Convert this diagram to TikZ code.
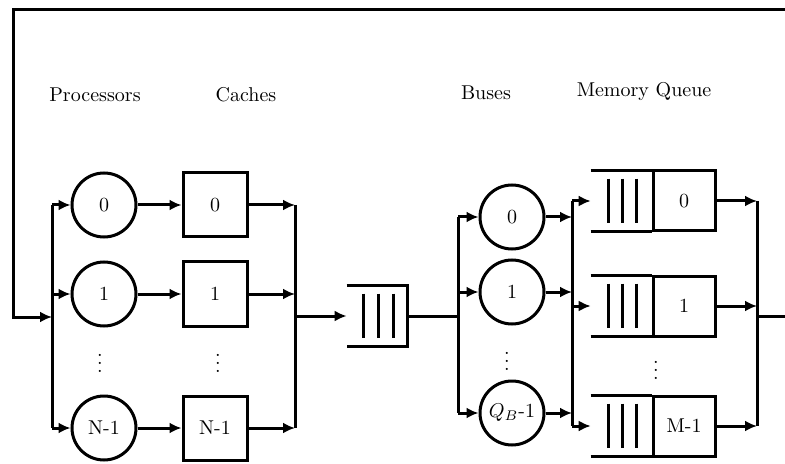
\documentclass[tikz,border=0pt]{standalone}
\usepackage{amsmath, amssymb}
\usepackage{tikz}
\usetikzlibrary{arrows.meta, positioning}

\begin{document}
\begin{tikzpicture}[x=0.5pt, y=-0.5pt,
            proc/.style={circle, draw, line width=1.5pt, minimum size=32pt,
                         inner sep=0pt, font=\normalsize},
            cache/.style={rectangle, draw, line width=1.5pt, minimum width=32pt,
                          minimum height=32pt, inner sep=0pt, font=\normalsize},
            membox/.style={rectangle, draw, line width=1.5pt, minimum width=31pt,
                           minimum height=30pt, inner sep=0pt, font=\normalsize},
            slot/.style={rectangle, minimum width=30pt, minimum height=30pt, inner sep=0pt},
            heading/.style={font=\normalsize},
            wire/.style={line width=1.5pt},
            edge/.style={-{Latex[length=6pt, width=5.5pt]}, line width=1.5pt}
        ]
            \useasboundingbox (0,0) rectangle (785,464);

            % column headings
            \node[heading] (hproc) at (95,95) {Processors};
            \node[heading] (hcache) at (246,95) {Caches};
            \node[heading] (hbus) at (486,93) {Buses};
            \node[heading] (hmem) at (644,92) {Memory Queue};

            % processors and caches
            \node[proc] (P0) at (104,205) {0};
            \node[proc] (P1) at (104,294) {1};
            \node[proc] (PN) at (104,428) {N-1};
            \node[cache] (C0) at (215,205) {0};
            \node[cache] (C1) at (215,294) {1};
            \node[cache] (CN) at (215,428) {N-1};
            \node (pdots) at (100,357) {$\vdots$};
            \node (cdots) at (218,357) {$\vdots$};

            % central queue
            \node[slot] (Q) at (377,316) {};
            \draw[wire] (Q.north west) -- (Q.north east) -- (Q.south east) -- (Q.south west);
            \foreach \dx in {-14,1,16}
                \draw[wire] ([xshift=\dx*0.5pt, yshift=-4pt]Q.north) -- ([xshift=\dx*0.5pt, yshift=4pt]Q.south);

            % buses
            \node[proc] (B0) at (512,217) {0};
            \node[proc] (B1) at (512,292) {1};
            \node[proc] (BN) at (512,413) {$Q_B$-1};
            \node (bdots) at (507,355) {$\vdots$};

            % memory queues
            \node[membox] (M0) at (684,201) {0};
            \node[membox] (M1) at (684,306) {1};
            \node[membox] (MN) at (684,426) {M-1};
            \node[slot, left=0pt of M0] (W0) {};
            \node[slot, left=0pt of M1] (W1) {};
            \node[slot, left=0pt of MN] (WN) {};
            \foreach \w in {W0, W1, WN} {
                \draw[wire] (\w.north west) -- (\w.north east);
                \draw[wire] (\w.south west) -- (\w.south east);
                \foreach \dx in {-13,1,15}
                    \draw[wire] ([xshift=\dx*0.5pt, yshift=-4pt]\w.north) -- ([xshift=\dx*0.5pt, yshift=4pt]\w.south);
            }
            \node (mdots) at (656,364) {$\vdots$};

            % bus coordinates
            \coordinate (pin) at (52,317);
            \coordinate (cout) at (295,316);
            \coordinate (bin) at (458,316);
            \coordinate (bout) at (572,316);
            \coordinate (mout) at (757,316);
            \coordinate (exit) at (785,316);
            \coordinate (entry) at (785,10);
            \coordinate (turn) at (13,317);

            % processor side
            \draw[wire] (P0 -| pin) -- (PN -| pin);
            \foreach \p/\c in {P0/C0, P1/C1, PN/CN} {
                \draw[edge] (\p -| pin) -- (\p);
                \draw[edge] (\p) -- (\c);
                \draw[edge] (\c) -- (\c -| cout);
            }
            \draw[wire] (C0 -| cout) -- (CN -| cout);
            \draw[edge] (cout) -- (Q.west);

            % bus side
            \draw[wire] (Q.east) -- (bin);
            \draw[wire] (B0 -| bin) -- (BN -| bin);
            \foreach \b in {B0, B1, BN} {
                \draw[edge] (\b -| bin) -- (\b);
                \draw[edge] (\b) -- (\b -| bout);
            }
            \draw[wire] (W0 -| bout) -- (WN -| bout);
            \foreach \w/\m in {W0/M0, W1/M1, WN/MN} {
                \draw[edge] (\w -| bout) -- (\w.west);
                \draw[edge] (\m) -- (\m -| mout);
            }
            \draw[wire] (M0 -| mout) -- (MN -| mout);
            \draw[wire] (mout) -- (exit);

            % feedback loop
            \draw[edge] (entry) -| (turn) -- (pin);
        \end{tikzpicture}
\end{document}
